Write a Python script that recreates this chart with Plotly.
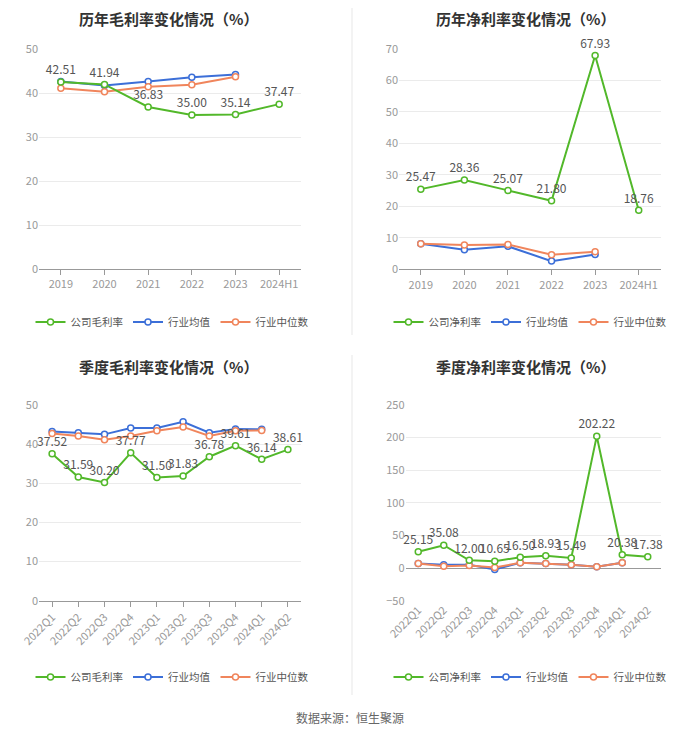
import plotly.graph_objects as go

# ---------------- data ----------------
years = ["2019", "2020", "2021", "2022", "2023", "2024H1"]
quarters = ["2022Q1", "2022Q2", "2022Q3", "2022Q4", "2023Q1", "2023Q2",
            "2023Q3", "2023Q4", "2024Q1", "2024Q2"]

annual_gross_company = [42.51, 41.94, 36.83, 35.00, 35.14, 37.47]
annual_gross_avg = [42.6, 41.7, 42.6, 43.6, 44.2, None]
annual_gross_median = [41.1, 40.3, 41.4, 41.9, 43.7, None]

annual_net_company = [25.47, 28.36, 25.07, 21.80, 67.93, 18.76]
annual_net_avg = [8.1, 6.2, 7.3, 2.6, 4.7, None]
annual_net_median = [8.1, 7.7, 7.9, 4.6, 5.6, None]

q_gross_company = [37.52, 31.59, 30.20, 37.77, 31.50, 31.83, 36.78, 39.61, 36.14, 38.61]
q_gross_avg = [43.2, 42.9, 42.5, 44.1, 44.1, 45.7, 42.9, 43.9, 43.8, None]
q_gross_median = [42.7, 42.1, 41.1, 42.1, 43.4, 44.4, 42.1, 43.4, 43.5, None]

q_net_company = [25.15, 35.08, 12.00, 10.65, 16.50, 18.93, 15.49, 202.22, 20.38, 17.38]
q_net_avg = [7.0, 5.0, 5.0, -2.0, 8.0, 7.0, 5.0, 2.0, 8.0, None]
q_net_median = [7.0, 3.0, 4.0, 1.0, 8.0, 7.0, 5.0, 2.0, 8.0, None]

titles = ["历年毛利率变化情况（%）", "历年净利率变化情况（%）",
          "季度毛利率变化情况（%）", "季度净利率变化情况（%）"]
company_names = ["公司毛利率", "公司净利率", "公司毛利率", "公司净利率"]
avg_name = "行业均值"
median_name = "行业中位数"
source_text = "数据来源：恒生聚源"

# ---------------- style ----------------
GREEN = "#52B82A"
BLUE = "#3C6FD8"
ORANGE = "#F0855C"
FONT = "Noto Sans CJK SC"
OFF = 8                      # page body margin of the html page
W, H = 700 - OFF, 734 - OFF  # figure size so that it fits the window


def fx(px):
    return (px - OFF) / W


def fy(py):
    return 1 - (py - OFF) / H


fig = go.Figure()

panels = [
    dict(cats=years, comp=annual_gross_company, avg=annual_gross_avg, med=annual_gross_median,
         xdom=[39, 301], ytop=49, ybot=269, yrange=[0, 50], dtick=10, angle=0),
    dict(cats=years, comp=annual_net_company, avg=annual_net_avg, med=annual_net_median,
         xdom=[399, 660.5], ytop=49, ybot=269.3, yrange=[0, 70], dtick=10, angle=0),
    dict(cats=quarters, comp=q_gross_company, avg=q_gross_avg, med=q_gross_median,
         xdom=[39, 301], ytop=405, ybot=600.7, yrange=[0, 50], dtick=10, angle=-45),
    dict(cats=quarters, comp=q_net_company, avg=q_net_avg, med=q_net_median,
         xdom=[405.5, 660.5], ytop=405, ybot=600.7, yrange=[-50, 250], dtick=50, angle=-45),
]

# title anchors: (page y, anchor); top titles are pinned to the top edge of the figure
title_pos = [(OFF, "top"), (OFF, "top"), (367, "middle"), (367, "middle")]
title_x = [168, 525, 168, 525]
legend_y = [322, 322, 677, 677]
legend_x = [172, 530, 172, 530]

for i, p in enumerate(panels):
    k = "" if i == 0 else str(i + 1)
    xa = "x" + k
    ya = "y" + k
    lg = "legend" + k
    n = len(p["cats"])

    def add(vals, name, color, rank, text=None):
        fig.add_trace(go.Scatter(
            x=p["cats"], y=vals, name=name,
            mode="lines+markers+text" if text else "lines+markers",
            line=dict(color=color, width=2),
            marker=dict(symbol="circle", size=6, color="white", line=dict(color=color, width=1.5)),
            text=text, textposition="top center",
            textfont=dict(family=FONT, size=12, color="#555"),
            cliponaxis=False, xaxis=xa, yaxis=ya, legend=lg, legendrank=rank,
            hoverinfo="skip",
        ))

    add(p["avg"], avg_name, BLUE, 2)
    add(p["med"], median_name, ORANGE, 3)
    add(p["comp"], company_names[i], GREEN, 1, text=[f"{v:.2f}" for v in p["comp"]])

    layout_x = dict(
        domain=[fx(p["xdom"][0]), fx(p["xdom"][1])], anchor=ya, automargin=False,
        type="category", range=[-0.5, n - 0.5],
        showline=True, linecolor="#999", linewidth=1,
        ticks="outside", ticklen=5, tickcolor="#999",
        tickangle=p["angle"], tickfont=dict(family=FONT, size=11, color="#999"),
        showgrid=False, zeroline=False, fixedrange=True,
    )
    layout_y = dict(
        domain=[fy(p["ybot"]), fy(p["ytop"])], anchor=xa, automargin=False,
        range=p["yrange"], dtick=p["dtick"],
        showgrid=True, gridcolor="#EBEBEB", gridwidth=1,
        zeroline=False, showline=False,
        tickfont=dict(family=FONT, size=11, color="#999"), ticks="",
        fixedrange=True,
    )
    if i == 3:
        layout_y["zeroline"] = True
        layout_y["zerolinecolor"] = "#999"
        layout_y["zerolinewidth"] = 1
        layout_x["showline"] = False
        layout_x["ticks"] = ""
    fig.update_layout({"xaxis" + k: layout_x, "yaxis" + k: layout_y})

    fig.update_layout({lg: dict(
        orientation="h", x=fx(legend_x[i]), xanchor="center",
        y=fy(legend_y[i]), yanchor="middle",
        font=dict(family=FONT, size=10.5, color="#555"),
        traceorder="normal", itemwidth=30, bgcolor="rgba(0,0,0,0)",
    )})

    ty, tanchor = title_pos[i]
    fig.add_annotation(
        text=f"<b>{titles[i]}</b>", x=fx(title_x[i]), y=fy(ty),
        xref="paper", yref="paper", showarrow=False, xanchor="center", yanchor=tanchor,
        borderpad=0, borderwidth=0,
        font=dict(family=FONT, size=15, color="#333"),
    )

fig.add_annotation(
    text=source_text, x=fx(350), y=fy(717), xref="paper", yref="paper",
    showarrow=False, xanchor="center", yanchor="middle",
    font=dict(family=FONT, size=12, color="#666"),
)

# faint dividers between the panels
for y0, y1 in [(OFF, 335), (355, 695)]:
    fig.add_shape(type="line", xref="paper", yref="paper",
                  x0=fx(352), x1=fx(352), y0=fy(y1), y1=fy(y0),
                  line=dict(color="#F3F3F3", width=2))

fig.update_layout(
    width=W, height=H, margin=dict(l=0, r=0, t=0, b=0, autoexpand=False),
    paper_bgcolor="white", plot_bgcolor="white",
    font=dict(family=FONT), showlegend=True,
)

fig.write_html("out.html")
